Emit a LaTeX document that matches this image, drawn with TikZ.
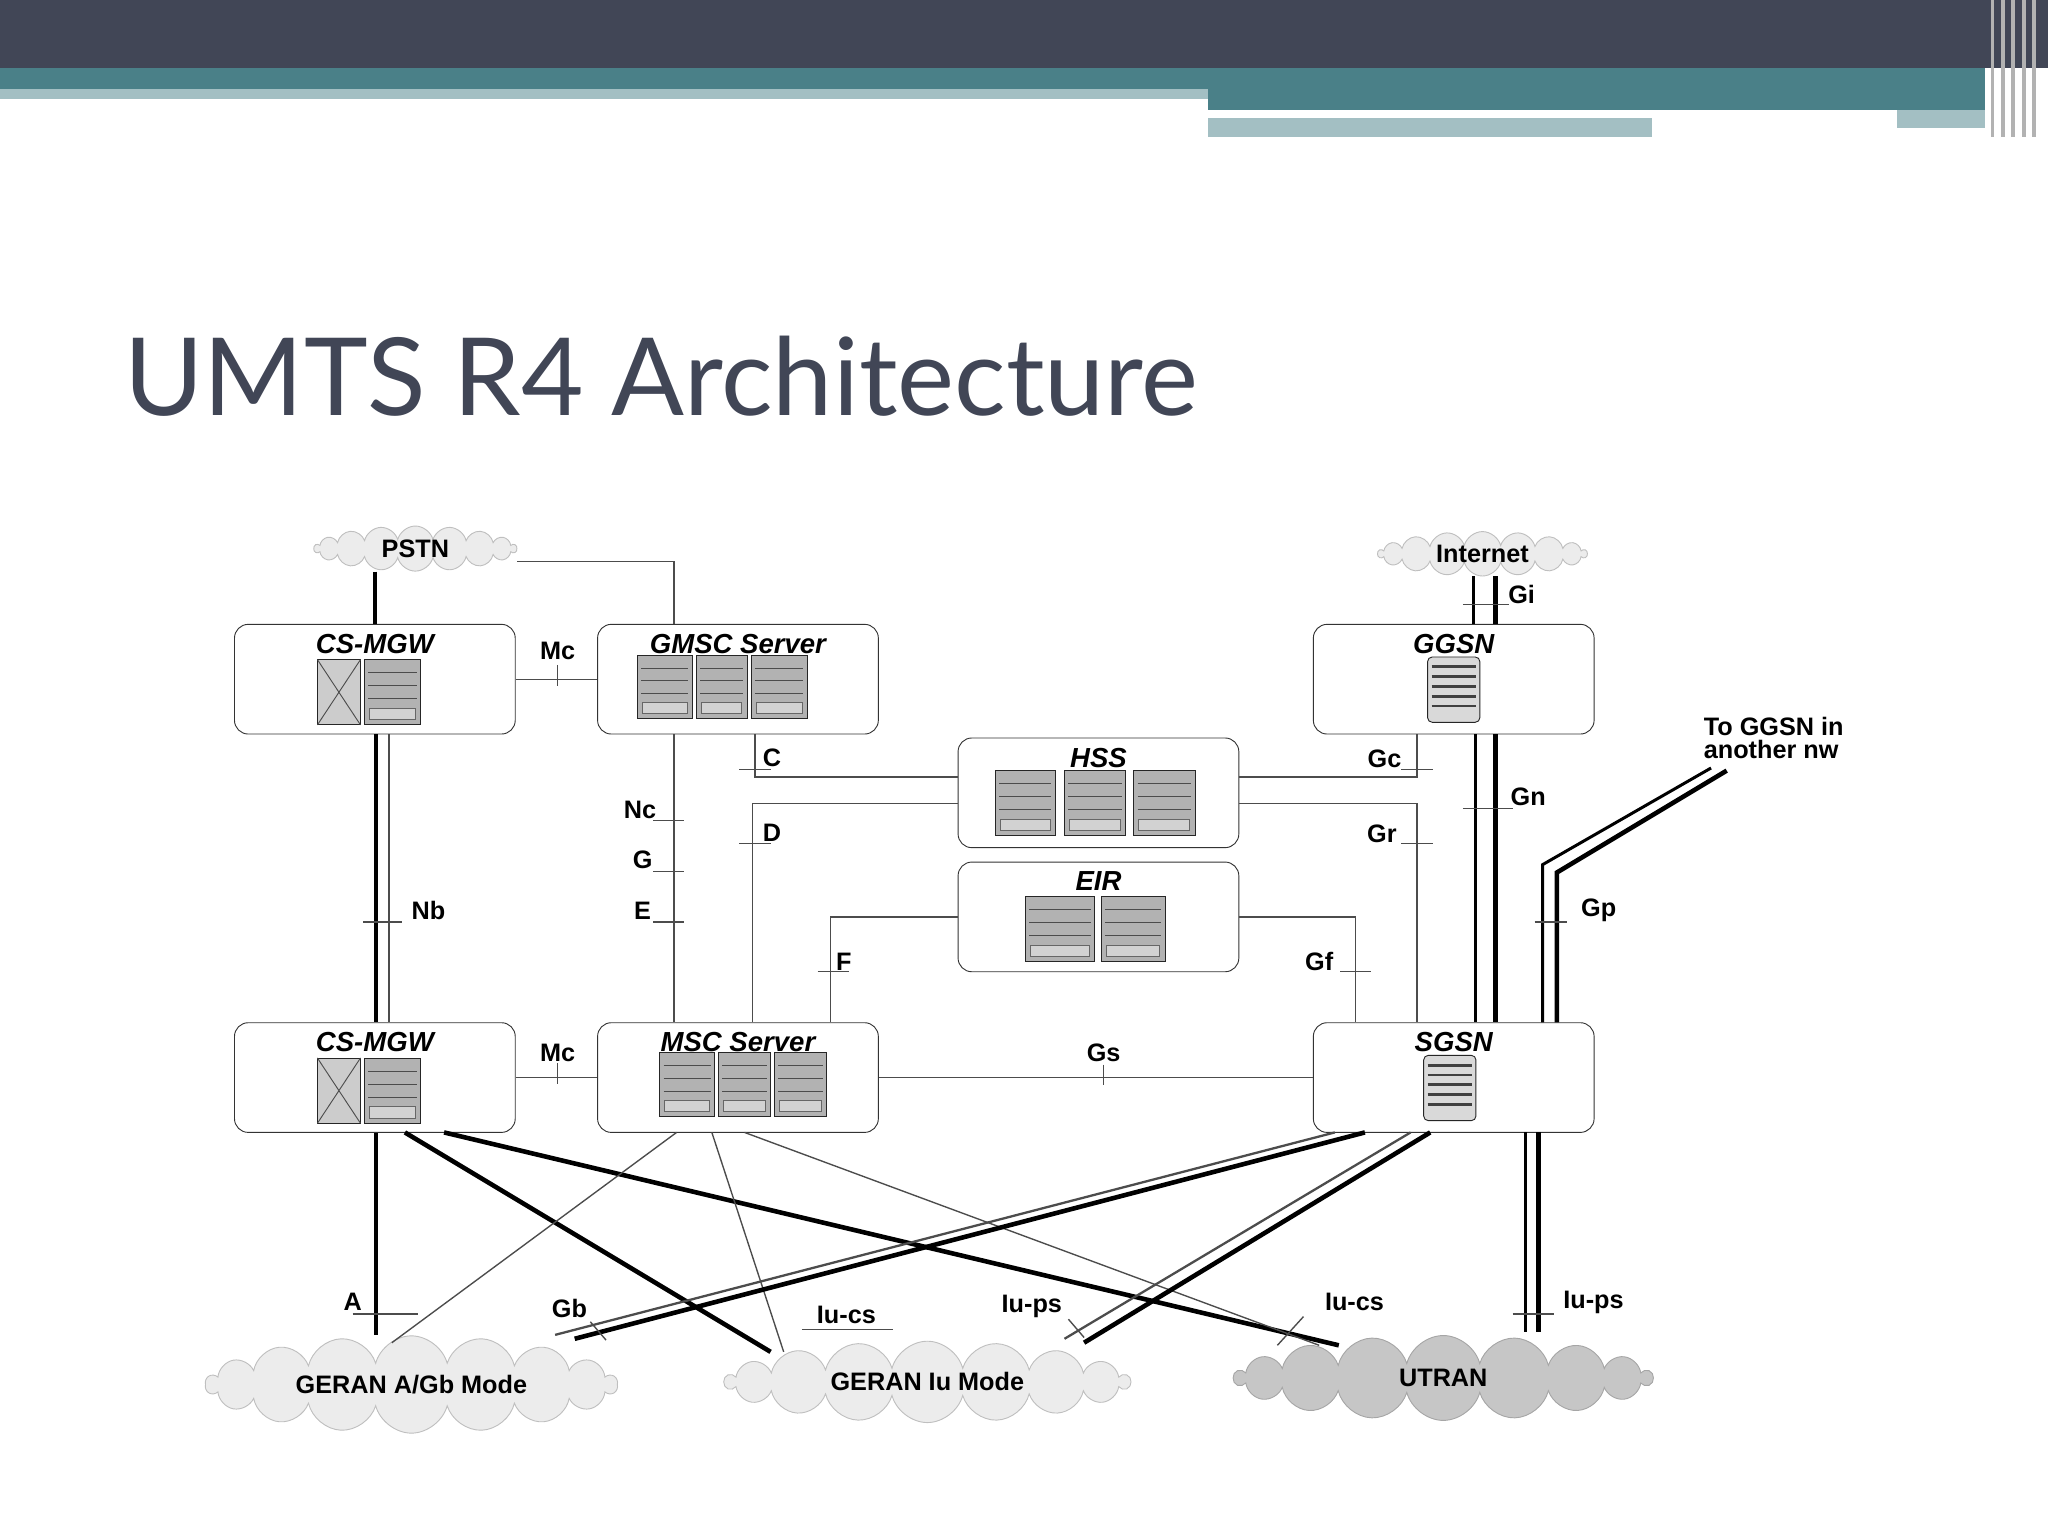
\documentclass[tikz,border=0pt]{standalone}
\usepackage{fontspec}
\setmainfont{Liberation Sans}
\newfontfamily\titlefont{Lato}
\usetikzlibrary{positioning}
\usetikzlibrary{shapes.symbols}
\definecolor{slate}{HTML}{414656}
\definecolor{tealband}{HTML}{4A8088}
\definecolor{lightteal}{HTML}{A3BFC3}
\newcommand\rackbox[4]{%
  \draw[fill=gray!60,draw=black!85] (#1,#2) rectangle (#3,#4);
  \foreach \yy in {0.2,0.4,0.6} \draw[black!70] (#1+3,{#2+(#4-#2)*\yy}) -- (#3-3,{#2+(#4-#2)*\yy});
  \draw[black!60,fill=gray!35] (#1+4,{#2+(#4-#2)*0.75}) rectangle (#3-4,#4-4);}
\newcommand\crossbox[4]{%
  \draw[fill=gray!40,draw=black!85] (#1,#2) rectangle (#3,#4);
  \draw[black!70] (#1,#2) -- (#3,#4) (#1,#4) -- (#3,#2);}
\newcommand\serverbox[4]{%
  \draw[fill=gray!30,draw=black!85,rounded corners=2pt] (#1,#2) rectangle (#3,#4);
  \foreach \yy in {0.15,0.3,...,0.9} \draw[black!75,line width=1.2pt] (#1+3,{#2+(#4-#2)*\yy}) -- (#3-3,{#2+(#4-#2)*\yy});}
\begin{document}
\begin{tikzpicture}[x=0.02cm,y=-0.02cm,
    element/.style={draw=black!80,rounded corners=6pt,minimum width=4.3cm,minimum height=1.68cm,fill=white},
    elname/.style={font=\bfseries\itshape\fontsize{12}{14}\selectfont},
    cloudy/.style={cloud,cloud puffs=18,aspect=6,inner sep=0pt,draw=gray!50,fill=gray!15,font=\bfseries\fontsize{11}{13}\selectfont},
    iflabel/.style={font=\bfseries\fontsize{11}{13}\selectfont,inner sep=1pt},
    link/.style={black!70,line width=0.6pt},
    heavy/.style={black,line width=2pt}]
  \useasboundingbox (0,0) rectangle (1568,1176);
  % slide decoration
  \fill[slate] (0,0) rectangle (1568,52);
  \fill[tealband] (0,52) rectangle (1520,68);
  \fill[lightteal] (0,68) rectangle (925,76);
  \fill[tealband] (925,68) rectangle (1520,84);
  \fill[lightteal] (925,90) rectangle (1265,105);
  \fill[lightteal] (1452,84) rectangle (1520,98);
  \foreach \xx in {1524,1532,1540,1548,1556} \fill[gray!60] (\xx,0) rectangle (\xx+3,105);
  \node[anchor=base west,text=slate,inner sep=0pt,font=\titlefont\fontsize{47}{56}\selectfont] (title) at (95,318) {UMTS R4 Architecture};

  % clouds
  \node[cloudy,minimum width=3.1cm,minimum height=0.6cm] (pstn) at (318,420) {PSTN};
  \node[cloudy,minimum width=3.2cm,minimum height=0.6cm] (inet) at (1135,424) {Internet};
  \node[cloudy,minimum width=6.3cm,minimum height=1.2cm] (gerangb) at (315,1060) {GERAN A/Gb Mode};
  \node[cloudy,minimum width=6.2cm,minimum height=1.2cm] (geraniu) at (710,1058) {GERAN Iu Mode};
  \node[cloudy,fill=gray!45,draw=gray!70,minimum width=6.4cm,minimum height=1.3cm] (utran) at (1105,1055) {UTRAN};

  % network elements
  \node[element] (mgwa) at (287,520) {};
  \node[element] (gmsc) at (565,520) {};
  \node[element] (ggsn) at (1113,520) {};
  \node[element] (hss) at (841,607) {};
  \node[element] (eir) at (841,702) {};
  \node[element] (mgwb) at (287,825) {};
  \node[element] (msc) at (565,825) {};
  \node[element] (sgsn) at (1113,825) {};
  \node[elname,below=1pt of mgwa.north] {CS-MGW};
  \node[elname,below=1pt of gmsc.north] {GMSC Server};
  \node[elname,below=1pt of ggsn.north] {GGSN};
  \node[elname,below=1pt of hss.north] {HSS};
  \node[elname,below=1pt of eir.north] {EIR};
  \node[elname,below=1pt of mgwb.north] {CS-MGW};
  \node[elname,below=1pt of msc.north] {MSC Server};
  \node[elname,below=1pt of sgsn.north] {SGSN};
  % equipment icons
  \crossbox{243}{505}{276}{555} \rackbox{279}{505}{322}{555}
  \crossbox{243}{810}{276}{860} \rackbox{279}{810}{322}{860}
  \rackbox{488}{502}{530}{550} \rackbox{533}{502}{572}{550} \rackbox{575}{502}{618}{550}
  \rackbox{505}{806}{547}{855} \rackbox{550}{806}{590}{855} \rackbox{593}{806}{633}{855}
  \rackbox{762}{590}{808}{640} \rackbox{815}{590}{862}{640} \rackbox{868}{590}{915}{640}
  \rackbox{785}{686}{838}{736} \rackbox{843}{686}{892}{736}
  \serverbox{1093}{503}{1133}{553}
  \serverbox{1090}{808}{1130}{858}

  % circuit switched side
  \draw[heavy] (pstn.south -| mgwa) -- (mgwa.north);
  \draw[link] (pstn.east |- 0,430) -- (516,430) -- (516,478);
  \draw[link] (mgwa) -- (gmsc);
  \draw[link] (427,509) -- (427,525); \node[iflabel] at (427,498) {Mc};
  \draw[link] (mgwb) -- (msc);
  \draw[link] (427,814) -- (427,830); \node[iflabel] at (427,806) {Mc};
  \draw[heavy] (mgwa.south -| 288,0) -- (mgwb.north -| 288,0);
  \draw[link,line width=1pt] (mgwa.south -| 298,0) -- (mgwb.north -| 298,0);
  \draw[link] (278,706) -- (308,706); \node[iflabel] at (328,697) {Nb};
  \draw[link] (gmsc.south -| 516,0) -- (msc.north -| 516,0);
  \draw[link] (500,628) -- (524,628); \node[iflabel] at (490,620) {Nc};
  \draw[link] (500,667) -- (524,667); \node[iflabel] at (492,658) {G};
  \draw[link] (500,706) -- (524,706); \node[iflabel] at (492,697) {E};
  \draw[link] (gmsc.south -| 578,0) -- (578,595) -- (hss.west |- 0,595);
  \draw[link] (566,589) -- (590,589); \node[iflabel] at (591,580) {C};
  \draw[link] (msc.north -| 576,0) -- (576,615) -- (hss.west |- 0,615);
  \draw[link] (566,646) -- (590,646); \node[iflabel] at (591,638) {D};
  \draw[link] (msc.north -| 636,0) -- (636,702) -- (eir.west);
  \draw[link] (626,744) -- (650,744); \node[iflabel] at (646,736) {F};
  \draw[link] (msc.east) -- (sgsn.west);
  \draw[link] (845,815) -- (845,831); \node[iflabel] at (845,806) {Gs};

  % packet switched side
  \draw[link] (hss.east |- 0,595) -- (1085,595) -- (ggsn.south -| 1085,0);
  \draw[link] (1073,589) -- (1097,589); \node[iflabel] at (1060,581) {Gc};
  \draw[link] (hss.east |- 0,615) -- (1085,615) -- (sgsn.north -| 1085,0);
  \draw[link] (1073,646) -- (1097,646); \node[iflabel] at (1058,638) {Gr};
  \draw[link] (eir.east) -- (1038,702) -- (sgsn.north -| 1038,0);
  \draw[link] (1026,744) -- (1050,744); \node[iflabel] at (1010,736) {Gf};
  \draw[heavy,line width=1.3pt] (inet.south -| 1128,0) -- (ggsn.north -| 1128,0);
  \draw[heavy] (inet.south -| 1145,0) -- (ggsn.north -| 1145,0);
  \draw[link] (1120,463) -- (1155,463); \node[iflabel] at (1165,455) {Gi};
  \draw[heavy,line width=1.3pt] (ggsn.south -| 1130,0) -- (sgsn.north -| 1130,0);
  \draw[heavy] (ggsn.south -| 1145,0) -- (sgsn.north -| 1145,0);
  \draw[link] (1120,619) -- (1158,619); \node[iflabel] at (1170,610) {Gn};
  \coordinate (othernw) at (1322,590);
  \draw[heavy,line width=1.3pt] (sgsn.north -| 1181,0) -- (1181,662) -- (1310,588);
  \draw[heavy] (sgsn.north -| 1192,0) -- (1192,668) -- (othernw);
  \draw[link] (1175,706) -- (1200,706); \node[iflabel] at (1224,697) {Gp};
  \node[iflabel,align=left,font=\bfseries\fontsize{11}{10}\selectfont] (gptext) at (1358,565) {To GGSN in\\another nw};

  % access network links
  \draw[heavy] (mgwb.south -| 288,0) -- (288,1022);
  \draw[link] (270,1006) -- (320,1006); \node[iflabel] at (270,997) {A};
  \draw[heavy] (310,867) -- (590,1035);
  \draw[heavy] (340,867) -- (1025,1030);
  \draw[link] (518,867) -- (300,1028);
  \draw[link] (545,867) -- (600,1035);
  \draw[link] (570,867) -- (1010,1030);
  \draw[heavy] (1045,867) -- (440,1025);
  \draw[link,line width=1pt] (1022,867) -- (425,1022);
  \draw[heavy] (1095,867) -- (830,1028);
  \draw[link,line width=1pt] (1080,867) -- (815,1025);
  \draw[heavy,line width=1.3pt] (1168,867) -- (1168,1020);
  \draw[heavy] (1178,867) -- (1178,1020);
  \draw[link] (452,1012) -- (464,1026); \node[iflabel] at (436,1002) {Gb};
  \draw[link] (614,1018) -- (684,1018); \node[iflabel] at (648,1007) {Iu-cs};
  \draw[link] (818,1010) -- (830,1024); \node[iflabel] at (790,1000) {Iu-ps};
  \draw[link] (978,1030) -- (998,1008); \node[iflabel] at (1037,997) {Iu-cs};
  \draw[link] (1158,1006) -- (1190,1006); \node[iflabel] at (1220,997) {Iu-ps};
\end{tikzpicture}
\end{document}
